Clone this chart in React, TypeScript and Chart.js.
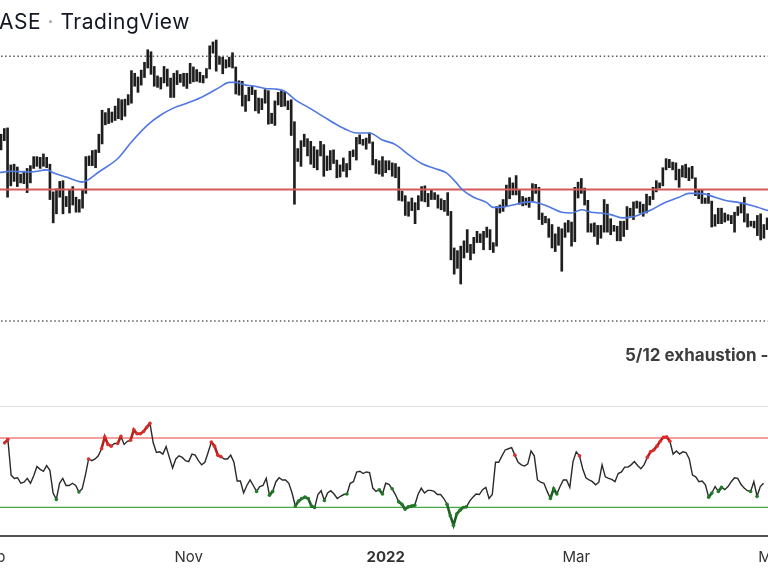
import React, { useEffect, useRef } from 'react';
import { Chart, registerables } from 'chart.js';

Chart.register(...registerables);

// Day index: 1 Sep 2021 = 0. First visible bar = 5 Sep 2021.
const FIRST_DAY = 4;

// BTCUSD daily highs / lows (thousand USD), 5 Sep 2021 .. 28 Apr 2022
const HIGHS = [
  51.9, 52.8, 52.9, 47.3, 47.4, 47.0, 46.0, 46.4, 46.8, 47.2,
  48.5, 48.5, 48.4, 48.9, 48.4, 47.4, 43.6, 44.0, 45.0, 45.1,
  43.0, 43.9, 44.3, 42.9, 42.6, 43.9, 48.5, 48.6, 49.4, 49.5,
  51.9, 55.8, 55.4, 56.1, 55.5, 56.5, 57.8, 57.6, 57.7, 58.5,
  62.9, 62.4, 61.7, 63.0, 64.5, 67.0, 66.6, 63.7, 61.9, 61.6,
  63.7, 63.2, 61.5, 62.4, 62.9, 62.2, 62.4, 62.4, 64.3, 63.6,
  63.1, 62.6, 62.0, 63.3, 67.8, 68.6, 69.0, 65.6, 65.5, 65.0,
  65.5, 66.4, 63.6, 61.0, 60.9, 58.4, 59.8, 60.0, 59.3, 57.9,
  57.8, 59.4, 59.2, 55.3, 57.4, 58.9, 59.2, 59.0, 57.4, 57.6,
  53.9, 49.7, 50.9, 51.9, 51.2, 50.8, 50.0, 49.5, 50.8, 50.3,
  48.6, 49.4, 49.5, 48.0, 47.3, 48.3, 47.5, 49.3, 49.5, 51.4,
  51.8, 51.1, 51.3, 52.1, 50.7, 48.1, 47.9, 48.5, 47.9, 47.9,
  47.6, 47.5, 47.0, 43.7, 43.1, 42.3, 42.8, 42.2, 43.1, 44.3,
  44.4, 43.4, 43.8, 43.5, 43.2, 42.7, 42.5, 43.5, 41.1, 36.8,
  36.5, 37.0, 37.6, 38.9, 37.2, 38.0, 38.7, 38.4, 38.7, 39.2,
  38.9, 37.4, 41.7, 41.9, 42.6, 44.5, 45.5, 44.8, 45.8, 43.9,
  43.0, 42.8, 42.9, 44.7, 44.6, 44.2, 40.9, 40.5, 40.2, 39.5,
  38.4, 39.2, 39.0, 39.7, 40.0, 39.8, 44.2, 44.9, 45.4, 44.1,
  42.5, 39.6, 39.7, 39.4, 39.4, 42.6, 42.0, 40.2, 39.4, 39.3,
  39.9, 39.9, 41.7, 41.5, 42.3, 42.4, 42.3, 42.0, 43.3, 43.0,
  44.2, 45.1, 44.8, 46.9, 48.2, 48.1, 47.7, 47.6, 46.7, 47.2,
  47.4, 46.9, 47.1, 45.5, 43.9, 43.9, 42.8, 43.4, 42.4, 40.7,
  41.5, 41.5, 40.9, 40.7, 40.6, 41.0, 41.7, 42.2, 42.9, 40.8,
  39.9, 39.9, 40.6, 40.8, 39.5, 40.3,
];
const LOWS = [
  49.5, 50.9, 42.9, 44.4, 45.0, 44.3, 44.8, 44.7, 43.5, 44.8,
  46.8, 47.1, 46.8, 47.1, 46.9, 42.6, 39.7, 40.8, 42.9, 40.8,
  41.7, 40.9, 41.9, 41.0, 41.0, 41.5, 43.4, 47.2, 47.2, 46.9,
  49.1, 50.4, 53.4, 53.6, 53.8, 54.1, 54.4, 54.2, 54.8, 56.7,
  57.0, 60.0, 58.9, 60.2, 61.6, 63.4, 62.2, 60.0, 59.8, 59.5,
  60.6, 60.0, 58.0, 58.0, 60.3, 60.7, 60.0, 59.6, 60.5, 60.8,
  60.9, 60.7, 60.6, 61.5, 63.2, 66.3, 62.8, 64.1, 62.3, 63.4,
  63.6, 63.4, 58.6, 58.4, 56.5, 55.6, 57.4, 58.5, 55.7, 55.3,
  55.9, 57.0, 53.5, 53.6, 53.3, 56.7, 56.4, 56.5, 55.9, 51.7,
  42.0, 47.8, 47.1, 50.0, 48.6, 47.4, 46.9, 46.6, 48.6, 45.7,
  46.5, 46.6, 47.5, 45.5, 45.6, 46.4, 45.6, 46.6, 48.5, 48.0,
  50.4, 50.2, 49.6, 50.5, 47.3, 46.1, 46.0, 45.7, 46.2, 46.6,
  45.7, 45.5, 42.5, 42.4, 40.6, 40.5, 41.2, 39.6, 41.3, 42.4,
  42.3, 41.7, 42.6, 42.6, 41.5, 41.3, 41.1, 40.6, 35.5, 34.0,
  34.6, 33.0, 35.7, 36.3, 35.5, 36.2, 37.4, 37.4, 36.6, 38.0,
  36.6, 36.3, 37.0, 40.9, 41.1, 41.7, 42.7, 43.2, 43.2, 42.0,
  41.8, 41.9, 41.6, 42.4, 43.4, 40.1, 39.5, 39.7, 38.0, 36.8,
  36.4, 37.1, 34.3, 38.0, 38.6, 37.0, 37.5, 42.8, 43.4, 41.9,
  38.6, 38.6, 38.1, 37.2, 37.9, 38.6, 38.6, 38.3, 38.7, 37.6,
  37.6, 38.1, 38.9, 40.5, 40.1, 41.5, 40.9, 40.5, 40.9, 41.9,
  42.6, 43.6, 44.1, 44.4, 46.6, 46.9, 46.6, 45.2, 44.2, 45.6,
  45.5, 45.1, 45.4, 43.1, 42.7, 42.1, 42.1, 42.1, 39.2, 39.3,
  39.6, 39.6, 39.8, 40.0, 39.6, 38.6, 40.6, 40.9, 39.8, 39.2,
  39.3, 39.1, 38.2, 37.7, 37.9, 38.9,
];

// Blue moving average (read along its path)
const MA_DAYS = [
  3.5, 7, 13, 18, 20, 24, 29, 31, 34, 40, 44, 49, 53, 57, 61, 65, 68, 71, 74, 76,
  79, 82, 85, 88, 91, 94.5, 98.5, 103, 107, 110, 113, 117, 121, 125, 129, 133, 137,
  140.5, 143.5, 145.5, 149, 153, 155, 157, 161, 164, 167, 170, 173, 176, 179, 182,
  185, 188, 191, 194.5, 197.5, 200.5, 203.5, 207.5, 212, 215, 217.5, 220, 223, 226,
  230.5, 234.5, 239.3,
];
const MA_VALUES = [
  46.2, 46.4, 46.3, 46.6, 46.2, 45.6, 44.9, 45.3, 46.3, 48.3, 50.7, 53.4, 55.0, 56.2,
  57.0, 57.9, 58.8, 59.8, 60.7, 60.7, 60.2, 60.0, 59.6, 59.5, 59.1, 57.5, 56.2, 54.7,
  53.4, 52.6, 52.1, 52.1, 51.0, 50.3, 48.8, 47.5, 46.8, 46.2, 44.9, 43.9, 42.9, 42.2,
  41.6, 41.6, 41.9, 42.2, 42.3, 42.0, 41.5, 41.0, 40.9, 41.3, 41.0, 40.9, 40.7, 40.3,
  40.4, 40.8, 41.3, 42.2, 42.9, 43.4, 43.4, 43.3, 42.9, 42.5, 42.2, 41.8, 41.2,
];

const LEVEL_PRICE = 43.9;
const DOTTED_LEVELS = [65.7, 29.5];

// Oscillator pane, one value per day from FIRST_DAY
const OSC = [
  67.2, 69.1, 48.6, 46.7, 47.1, 43.9, 44.5, 46.7, 43.9, 48.2,
  53.6, 51.9, 50.8, 54.1, 51.4, 38.3, 34.6, 43.9, 46.7, 42.6,
  42.6, 43.9, 42.6, 38.9, 40.7, 48.6, 57.9, 56.9, 57.9, 59.7,
  63.8, 70.6, 66.3, 65.3, 66.8, 66.8, 70.9, 66.3, 68.1, 68.7,
  74.7, 72.4, 72.4, 73.7, 76.2, 78.4, 67.2, 61.6, 62.0, 60.7,
  65.0, 58.8, 52.7, 57.9, 59.7, 58.8, 56.9, 56.4, 60.7, 60.1,
  56.9, 54.5, 56.0, 61.6, 67.6, 65.3, 60.1, 59.2, 57.9, 57.9,
  60.1, 56.0, 45.2, 45.2, 38.3, 42.6, 45.8, 42.6, 39.2, 42.0,
  42.6, 46.7, 37.0, 39.2, 44.8, 47.1, 45.8, 45.8, 43.9, 38.3,
  30.8, 33.6, 35.1, 35.9, 35.1, 30.8, 29.9, 37.4, 39.6, 34.0,
  38.3, 39.6, 37.7, 35.1, 36.4, 37.4, 37.7, 43.9, 44.8, 50.4,
  50.8, 49.5, 50.4, 50.0, 41.1, 39.2, 40.2, 37.7, 43.9, 43.3,
  40.7, 37.4, 33.3, 31.8, 29.0, 30.3, 30.8, 31.2, 37.4, 41.1,
  38.3, 39.8, 39.8, 39.2, 37.4, 37.4, 35.1, 31.8, 25.2, 19.7,
  26.2, 28.4, 29.9, 30.3, 33.6, 35.9, 37.7, 37.4, 40.2, 41.5,
  35.1, 37.4, 56.0, 56.0, 59.7, 63.1, 63.8, 64.4, 60.1, 56.0,
  54.5, 53.8, 55.1, 62.5, 59.7, 45.8, 44.5, 43.9, 39.2, 35.1,
  40.7, 37.7, 42.0, 45.8, 45.8, 41.5, 56.4, 62.0, 59.7, 52.3,
  47.1, 45.8, 44.8, 43.0, 44.5, 54.5, 47.6, 46.7, 46.1, 44.8,
  49.5, 50.4, 53.2, 53.2, 54.5, 56.4, 54.1, 52.3, 54.5, 58.8,
  62.0, 63.1, 65.3, 68.1, 70.4, 70.6, 68.1, 60.7, 62.5, 60.7,
  62.0, 61.6, 57.9, 48.6, 47.6, 44.8, 45.2, 43.0, 35.9, 38.3,
  42.0, 39.2, 41.5, 40.2, 42.0, 44.8, 47.1, 46.7, 43.3, 41.1,
  39.6, 39.2, 44.8, 36.4, 42.0, 43.9,
];
const RED_DAYS = [4, 5, 30, 34, 35, 36, 37, 39, 40, 43, 44, 45, 46, 47, 48, 49, 68, 69, 70, 71, 162, 182, 203, 204, 205, 206, 207, 208, 209, 210];
const GREEN_DAYS = [20, 27, 82, 86, 87, 94, 95, 96, 97, 98, 99, 100, 103, 110, 120, 121, 124, 126, 127, 128, 129, 130, 131, 141, 142, 143, 144, 145, 146, 147, 173, 174, 175, 222, 223, 225, 226, 235, 237];
const OSC_UPPER = 70;
const OSC_LOWER = 30;

const TICK_DAYS = [0, 61, 122, 181, 242];
const TICK_LABELS = ['Sep', 'Nov', '2022', 'Mar', 'May'];

// visible window
const X_MIN = -8.59;
const X_MAX = 251.53;
const PRICE_MIN = 23.24;
const PRICE_MAX = 77.87;
const OSC_MIN = 13.5;
const OSC_MAX = 89.58;

export default function App() {
  const topRef = useRef<HTMLCanvasElement>(null);
  const botRef = useRef<HTMLCanvasElement>(null);

  useEffect(() => {
    const days = HIGHS.map((_, i) => FIRST_DAY + i);
    const bars = days.map((d, i) => ({ x: d, y: [LOWS[i], HIGHS[i]] }));
    const ma = MA_DAYS.map((d, i) => ({ x: d, y: MA_VALUES[i] }));
    const span = (v: number) => [{ x: X_MIN, y: v }, { x: X_MAX, y: v }];

    const top = new Chart(topRef.current as HTMLCanvasElement, {
      type: 'bar',
      data: {
        datasets: [
          ...DOTTED_LEVELS.map((v) => ({
            type: 'line' as const,
            data: span(v),
            borderColor: '#5a5a5a',
            borderWidth: 1.5,
            borderDash: [1.5, 2.6],
            pointRadius: 0,
            order: 3,
          })),
          {
            type: 'line' as const,
            data: span(LEVEL_PRICE),
            borderColor: '#d65a59',
            borderWidth: 2,
            pointRadius: 0,
            order: 1,
          },
          {
            type: 'line' as const,
            data: ma,
            borderColor: '#5078e2',
            borderWidth: 1.6,
            pointRadius: 0,
            cubicInterpolationMode: 'monotone',
            order: 0,
          },
          {
            type: 'bar' as const,
            data: bars as any,
            backgroundColor: '#1e1e1e',
            borderWidth: 0,
            barThickness: 2,
            order: 2,
          },
        ],
      } as any,
      options: {
        responsive: false,
        animation: false,
        events: [],
        layout: { padding: 0 },
        plugins: { legend: { display: false }, tooltip: { enabled: false } },
        scales: {
          x: { type: 'linear', min: X_MIN, max: X_MAX, bounds: 'data', offset: false, display: false },
          y: { type: 'logarithmic', min: PRICE_MIN, max: PRICE_MAX, bounds: 'data', display: false },
        },
      } as any,
    });

    const osc = days.map((d, i) => ({ x: d, y: OSC[i] }));
    const flag = days.map((d) => (RED_DAYS.includes(d) ? 1 : GREEN_DAYS.includes(d) ? -1 : 0));

    const bot = new Chart(botRef.current as HTMLCanvasElement, {
      type: 'line',
      data: {
        datasets: [
          { data: span(OSC_UPPER), borderColor: '#e8403c', borderWidth: 1.1, pointRadius: 0, order: 2 },
          { data: span(OSC_LOWER), borderColor: '#47a84b', borderWidth: 1.1, pointRadius: 0, order: 2 },
          {
            data: osc,
            borderColor: '#2a2a2a',
            borderWidth: 1.4,
            order: 1,
            segment: {
              borderColor: (c: any) => {
                const a = flag[c.p0DataIndex];
                const b = flag[c.p1DataIndex];
                if (a === 1 && b === 1) return '#b3201d';
                if (a === -1 && b === -1) return '#1d5f22';
                return undefined;
              },
              borderWidth: (c: any) => {
                const a = flag[c.p0DataIndex];
                const b = flag[c.p1DataIndex];
                return a !== 0 && a === b ? 2.6 : undefined;
              },
            },
            pointRadius: (c: any) => (flag[c.dataIndex] !== 0 ? 1.8 : 0),
            pointBackgroundColor: (c: any) => (flag[c.dataIndex] === 1 ? '#d9302c' : '#237a2a'),
            pointBorderWidth: 0,
          },
        ],
      } as any,
      options: {
        responsive: false,
        animation: false,
        events: [],
        layout: { padding: 0 },
        plugins: { legend: { display: false }, tooltip: { enabled: false } },
        scales: {
          x: {
            type: 'linear',
            min: X_MIN,
            max: X_MAX,
            bounds: 'data',
            offset: false,
            grid: { display: false, drawTicks: false },
            border: { display: true, color: '#505050', width: 2 },
            afterBuildTicks: (axis: any) => {
              axis.ticks = TICK_DAYS.map((v) => ({ value: v }));
            },
            ticks: {
              autoSkip: false,
              maxRotation: 0,
              padding: 12,
              color: '#333333',
              callback: (v: any) => TICK_LABELS[TICK_DAYS.indexOf(v)],
              font: (c: any) => ({
                family: 'Inter',
                size: 15,
                weight: c.tick && c.tick.value === 122 ? 'bold' : 'normal',
              }),
            },
          },
          y: { min: OSC_MIN, max: OSC_MAX, display: false },
        },
      } as any,
    });

    return () => {
      top.destroy();
      bot.destroy();
    };
  }, []);

  return (
    <div
      style={{
        position: 'fixed',
        left: 0,
        top: 0,
        width: 768,
        height: 576,
        overflow: 'hidden',
        background: '#ffffff',
      }}
    >
      <canvas ref={topRef} width={848} height={400} style={{ position: 'absolute', left: -40, top: 0, width: 848, height: 400 }} />
      <canvas ref={botRef} width={848} height={178} style={{ position: 'absolute', left: -40, top: 400, width: 848, height: 178 }} />
      <div style={{ position: 'absolute', left: 0, top: 406, width: 768, height: 1, background: '#e3e3e3' }} />
      <div
        style={{
          position: 'absolute',
          left: -1,
          top: 9,
          font: '21px Inter',
          lineHeight: '25px',
          letterSpacing: '0.5px',
          color: '#131722',
          whiteSpace: 'nowrap',
        }}
      >
        ASE<span style={{ color: '#a0a4aa' }}> · </span>TradingView
      </div>
      <div
        style={{
          position: 'absolute',
          left: 625,
          top: 345,
          font: 'bold 17px Inter',
          lineHeight: '20px',
          color: '#3d3d3d',
          whiteSpace: 'nowrap',
        }}
      >
        5/12 exhaustion -
      </div>
    </div>
  );
}
